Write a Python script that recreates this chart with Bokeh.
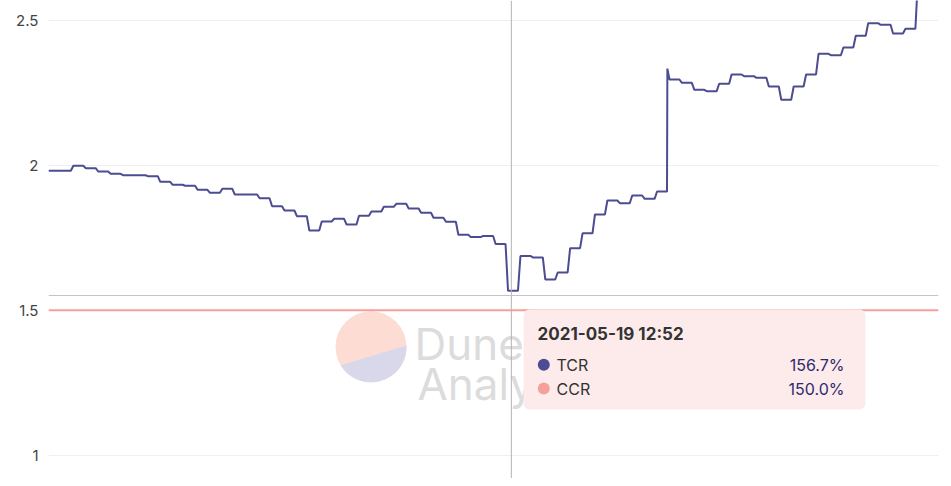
import numpy as np
import pandas as pd
from bokeh.plotting import figure
from bokeh.models import Range1d, FixedTicker, Span, BoxAnnotation
from bokeh.core.properties import value
from bokeh.embed import file_html
from bokeh.resources import INLINE

# ---------------- data ----------------
start_time = "2021-05-17 23:36"          # first hourly TCR sample
tcr = [1.9807, 1.9807, 1.9979, 1.9897, 1.9783, 1.9703, 1.9655, 1.9655, 1.9621, 1.9428,
       1.9324, 1.9290, 1.9152, 1.9048, 1.9186, 1.8990, 1.8990, 1.8862, 1.8586, 1.8438,
       1.8241, 1.7748, 1.8059, 1.8152, 1.7955, 1.8255, 1.8403, 1.8566, 1.8669, 1.8507,
       1.8359, 1.8186, 1.8048, 1.7600, 1.7520, 1.7560, 1.7280, 1.5670, 1.6870, 1.6820,
       1.6060, 1.6300, 1.7140, 1.7650, 1.8300, 1.8783, 1.8690, 1.8955, 1.8841, 1.9093,
       2.2955, 2.2841, 2.2600, 2.2552, 2.2807, 2.3128, 2.3069, 2.3014, 2.2714, 2.2255,
       2.2714, 2.3128, 2.3841, 2.3793, 2.4059, 2.4462, 2.4897, 2.4841, 2.4541, 2.4703,
       2.6400]
spike_after_index = 49                  # short spike between samples 49 and 50
spike_value = 2.333
ccr_level = 1.5
hover_time = "2021-05-19 12:52"
hover_index = 37
y_ticks = [1, 1.5, 2, 2.5]
series_names = ["TCR", "CCR"]
series_colors = ["#4b4c91", "#f4a09c"]

# ---------------- geometry helpers (figure pixels -> data) ----------------
W, H = 943, 478
FRAME_L, FRAME_R, FRAME_T, FRAME_B = 48, 938, 0, 478
HOUR_MS = 3600 * 1000
t0 = pd.Timestamp(start_time).value / 1e6
x_start = t0
x_end = t0 + 71.66 * HOUR_MS
y_top, y_bot = 2.5679, 0.9197


def px2t(px):
    return x_start + (px - FRAME_L) / (FRAME_R - FRAME_L) * (x_end - x_start)


def py2v(py):
    return y_top - (py - FRAME_T) / (FRAME_B - FRAME_T) * (y_top - y_bot)


# ---------------- line points ----------------
xs, ys = [], []
for i, v in enumerate(tcr):
    t = t0 + i * HOUR_MS
    xs += [t, t + 0.8 * HOUR_MS]
    ys += [v, v]
    if i == spike_after_index:
        xs.append(t + 0.83 * HOUR_MS)
        ys.append(spike_value)

p = figure(width=W, height=H, output_backend="svg", toolbar_location=None,
           x_axis_type="datetime",
           x_range=Range1d(x_start, x_end), y_range=Range1d(y_bot, y_top),
           min_border_left=FRAME_L, min_border_right=W - FRAME_R,
           min_border_top=0, min_border_bottom=0)
p.outline_line_color = None
p.background_fill_color = "white"
p.border_fill_color = "white"
p.xaxis.visible = False
p.xgrid.visible = False
p.ygrid.grid_line_color = "#efefef"
p.ygrid.grid_line_width = 1
p.yaxis.ticker = FixedTicker(ticks=y_ticks)
p.yaxis.axis_line_color = None
p.yaxis.major_tick_line_color = None
p.yaxis.minor_tick_line_color = None
p.yaxis.major_tick_out = 0
p.yaxis.major_label_standoff = 10
p.yaxis.major_label_text_font = "Inter"
p.yaxis.major_label_text_font_size = "15px"
p.yaxis.major_label_text_color = "#444444"

# ---------------- watermark ----------------
cx, cy, r = 370.5, 346.3, 35.5
p.scatter([px2t(cx)], [py2v(cy)], size=2 * r, marker="circle",
          fill_color="#fddcd4", line_color=None)
a0, a1 = np.deg2rad(-2.1), np.deg2rad(148.5)
ang = np.linspace(a0, a1, 60)
seg_x = [px2t(cx + r * np.cos(a)) for a in ang]
seg_y = [py2v(cy + r * np.sin(a)) for a in ang]
p.patch(seg_x, seg_y, fill_color="#d8d8ea", line_color=None)
p.text([px2t(414), px2t(417)], [py2v(343.3), py2v(383.3)], text=["Dune", "Analytics"],
       text_font=value("Inter"), text_font_size="44px", text_color="#dcdcdc",
       text_align="left", text_baseline="alphabetic")

# ---------------- series ----------------
p.line(xs, ys, line_color=series_colors[0], line_width=2)

p.add_layout(Span(location=ccr_level, dimension="width", line_color=series_colors[1],
                  line_width=2))

hover_ms = pd.Timestamp(hover_time).value / 1e6
p.add_layout(Span(location=hover_ms, dimension="height", line_color="#b4b4b4", line_width=1))
p.add_layout(Span(location=py2v(295), dimension="width", line_color="#c4c4c4", line_width=1))

# ---------------- tooltip ----------------
box = BoxAnnotation(left=px2t(523), right=px2t(865), top=py2v(309), bottom=py2v(409),
                    fill_color="#fdebeb", fill_alpha=1.0, line_color=None,
                    border_radius=6)
p.add_layout(box)

p.text([px2t(537)], [py2v(333)], text=[hover_time],
       text_font=value("Inter"), text_font_size="17px", text_font_style="bold",
       text_color="#333333", text_align="left", text_baseline="middle", level="overlay")
row_y = [py2v(364.3), py2v(388)]
p.scatter([px2t(543.3)] * 2, row_y, size=12, marker="circle",
          fill_color=series_colors, line_color=None, level="overlay")
p.text([px2t(556)] * 2, row_y, text=series_names,
       text_font=value("Inter"), text_font_size="16px", text_color="#333333",
       text_align="left", text_baseline="middle", level="overlay")
vals = [f"{tcr[hover_index] * 100:.1f}%", f"{ccr_level * 100:.1f}%"]
p.text([px2t(844)] * 2, row_y, text=vals,
       text_font=value("Inter"), text_font_size="16px", text_color="#2e2a6e",
       text_align="right", text_baseline="middle", level="overlay")

open("out.html", "w").write(file_html(p, INLINE))
